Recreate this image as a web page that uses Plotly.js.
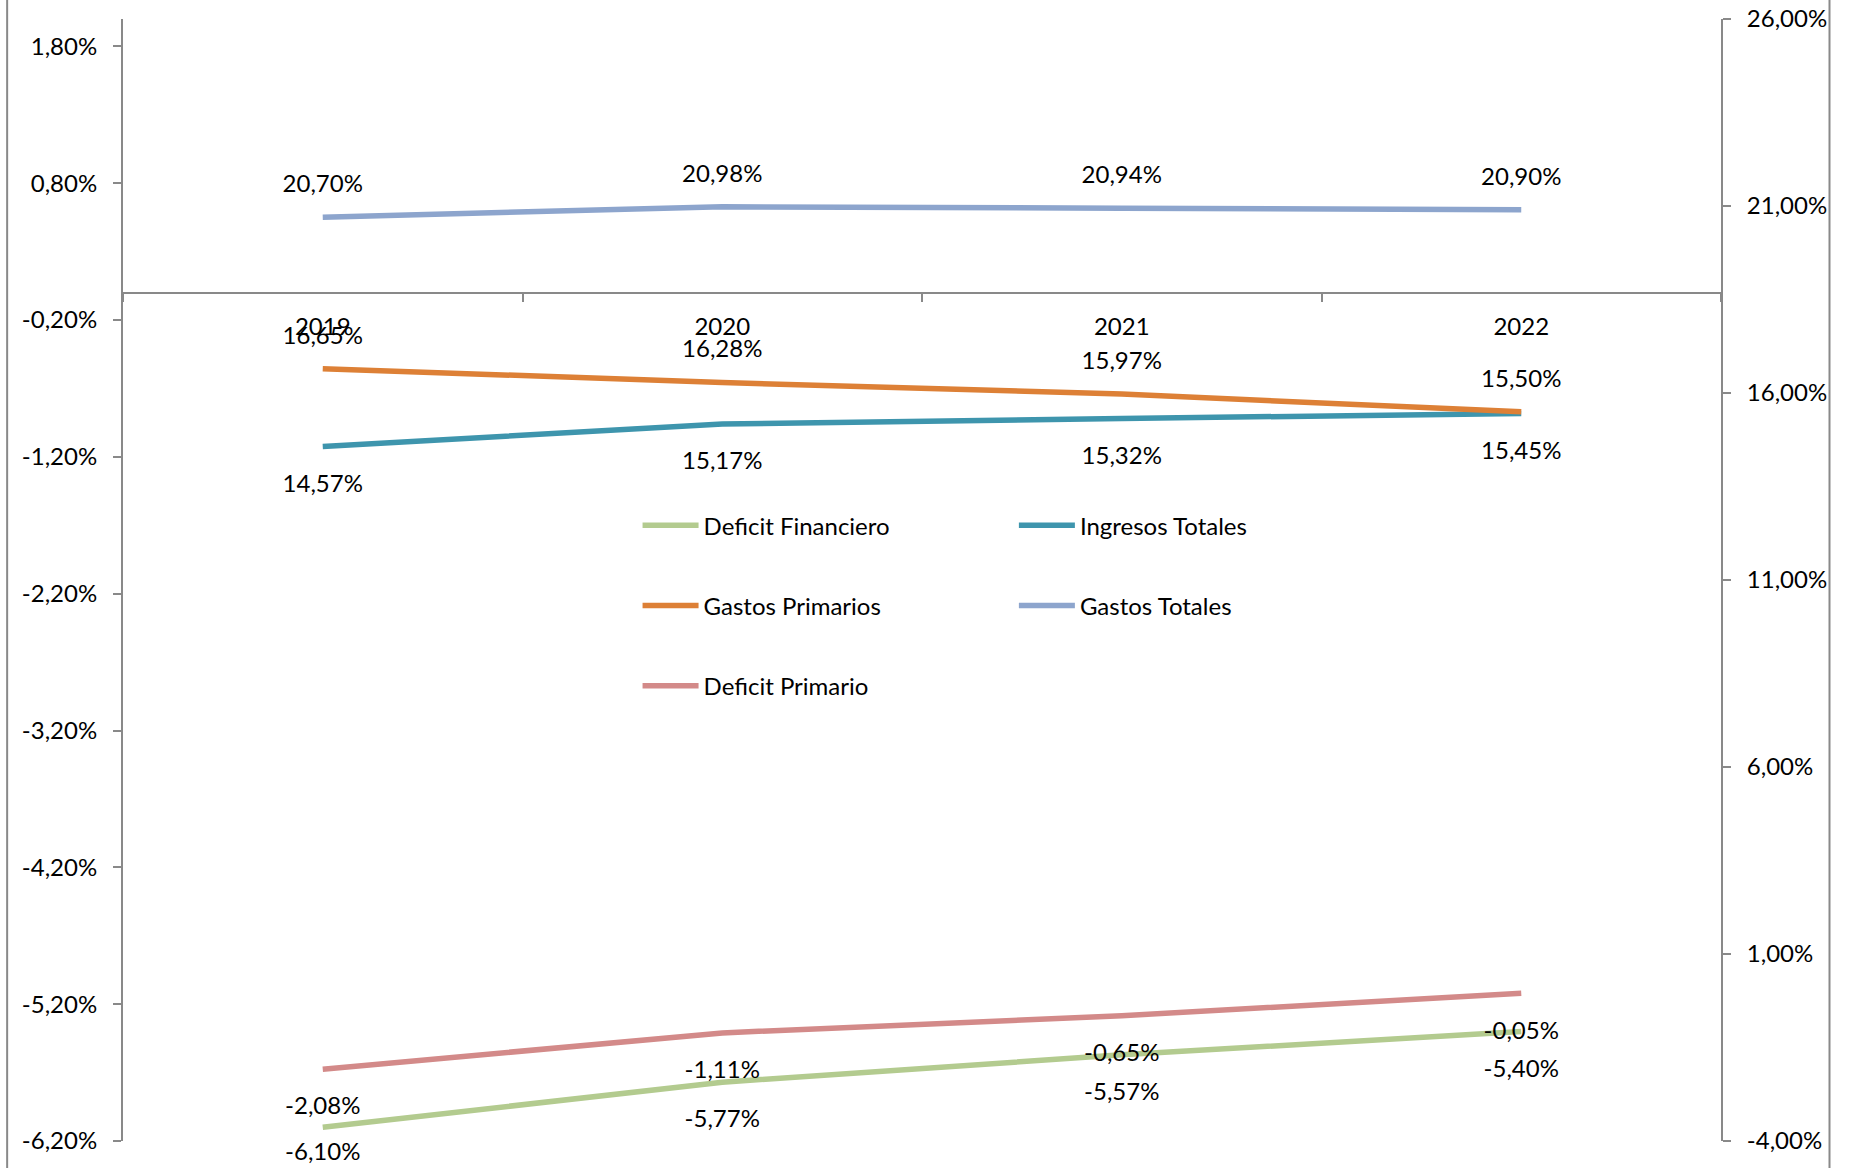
<!DOCTYPE html>
<html>
<head>
<meta charset="utf-8">
<script src="https://cdn.plot.ly/plotly-3.0.1.min.js"></script>
<style>
  html, body { margin: 0; padding: 0; background: #ffffff; }
  #chart { width: 1851px; height: 1168px; }
</style>
</head>
<body>
<div id="chart"></div>
<script>
// ---- Data ----
const years = ["2019", "2020", "2021", "2022"];
const deficitFinanciero = [-6.10, -5.77, -5.57, -5.40];   // left axis
const ingresosTotales   = [14.57, 15.17, 15.32, 15.45];   // right axis
const gastosPrimarios   = [16.65, 16.28, 15.97, 15.50];   // right axis
const gastosTotales     = [20.70, 20.98, 20.94, 20.90];   // right axis
const deficitPrimario   = [-2.08, -1.11, -0.65, -0.05];   // right axis

const leftTickVals  = [-6.2, -5.2, -4.2, -3.2, -2.2, -1.2, -0.2, 0.8, 1.8];
const rightTickVals = [-4, 1, 6, 11, 16, 21, 26];
const leftRange  = [-6.2, 2.0];
const rightRange = [-4, 26];

const FONT = "Lato, 'Open Sans', sans-serif";
const FS = 24;
const AXIS_GRAY = "#898989";

function fmt(v) { return v.toFixed(2).replace(".", ",") + "%"; }

function series(name, y, color, yaxis, legend, pos, msize) {
  return {
    type: "scatter",
    mode: "lines+markers+text",
    name: name,
    x: years,
    y: y,
    yaxis: yaxis,
    legend: legend,
    legendgroup: name,
    line: { color: color, width: 5.5 },
    marker: { size: msize, color: "rgba(0,0,0,0)", line: { width: 0 } },
    text: y.map(fmt),
    textposition: pos,
    textfont: { family: FONT, size: FS, color: "#000000" },
    cliponaxis: false,
    hoverinfo: "x+y+name"
  };
}

const traces = [
  series("Deficit Financiero", deficitFinanciero, "#B3CB8F", "y", "legend", "bottom center", [22, 42, 42, 42]),
  series("Ingresos Totales", ingresosTotales, "#3E95AD", "y2", "legend2", "bottom center", 42),
  series("Gastos Primarios", gastosPrimarios, "#DD8036", "y2", "legend", "top center", 29),
  series("Gastos Totales", gastosTotales, "#8DA5CD", "y2", "legend2", "top center", 29),
  series("Deficit Primario", deficitPrimario, "#D38A89", "y2", "legend", "bottom center", 42)
];

const xPos = (0 - leftRange[0]) / (leftRange[1] - leftRange[0]);

const legendCommon = {
  orientation: "v",
  traceorder: "grouped",
  tracegroupgap: 46,
  font: { family: FONT, size: FS, color: "#000000" },
  bgcolor: "rgba(0,0,0,0)",
  borderwidth: 0,
  itemwidth: 56,
  xanchor: "left",
  yanchor: "top"
};

function yAxisCommon(vals, range) {
  return {
    range: range,
    tickmode: "array",
    tickvals: vals,
    ticktext: vals.map(fmt),
    showline: true,
    linecolor: AXIS_GRAY,
    linewidth: 2,
    ticks: "outside",
    ticklen: 8,
    tickwidth: 2,
    tickcolor: AXIS_GRAY,
    ticklabelstandoff: 11,
    showgrid: false,
    zeroline: false,
    tickfont: { family: FONT, size: FS, color: "#000000" }
  };
}

const layout = {
  width: 1851,
  height: 1168,
  margin: { l: 123, r: 130, t: 19, b: 27, pad: 0 },
  paper_bgcolor: "#ffffff",
  plot_bgcolor: "#ffffff",
  separators: ",.",
  font: { family: FONT, size: FS, color: "#000000" },
  showlegend: true,
  legend: Object.assign({}, legendCommon, { x: 0.3220, y: 0.5685 }),
  legend2: Object.assign({}, legendCommon, { x: 0.5575, y: 0.5685 }),
  xaxis: {
    type: "category",
    range: [-0.5, years.length - 0.5],
    anchor: "free",
    position: xPos,
    side: "bottom",
    showline: true,
    linecolor: AXIS_GRAY,
    linewidth: 2,
    ticks: "outside",
    tickson: "boundaries",
    ticklen: 8,
    tickwidth: 2,
    tickcolor: AXIS_GRAY,
    ticklabelstandoff: 13,
    showgrid: false,
    zeroline: false,
    tickfont: { family: FONT, size: FS, color: "#000000" }
  },
  yaxis: yAxisCommon(leftTickVals, leftRange),
  yaxis2: Object.assign(yAxisCommon(rightTickVals, rightRange), { overlaying: "y", side: "right" }),
  shapes: [
    { type: "line", xref: "paper", yref: "paper", x0: -0.0725, x1: -0.0725, y0: -0.05, y1: 1.05,
      line: { color: AXIS_GRAY, width: 2 } },
    { type: "line", xref: "paper", yref: "paper", x0: 1.0679, x1: 1.0679, y0: -0.05, y1: 1.05,
      line: { color: AXIS_GRAY, width: 2 } }
  ]
};

Plotly.newPlot("chart", traces, layout, { displayModeBar: false, staticPlot: true });
</script>
</body>
</html>
